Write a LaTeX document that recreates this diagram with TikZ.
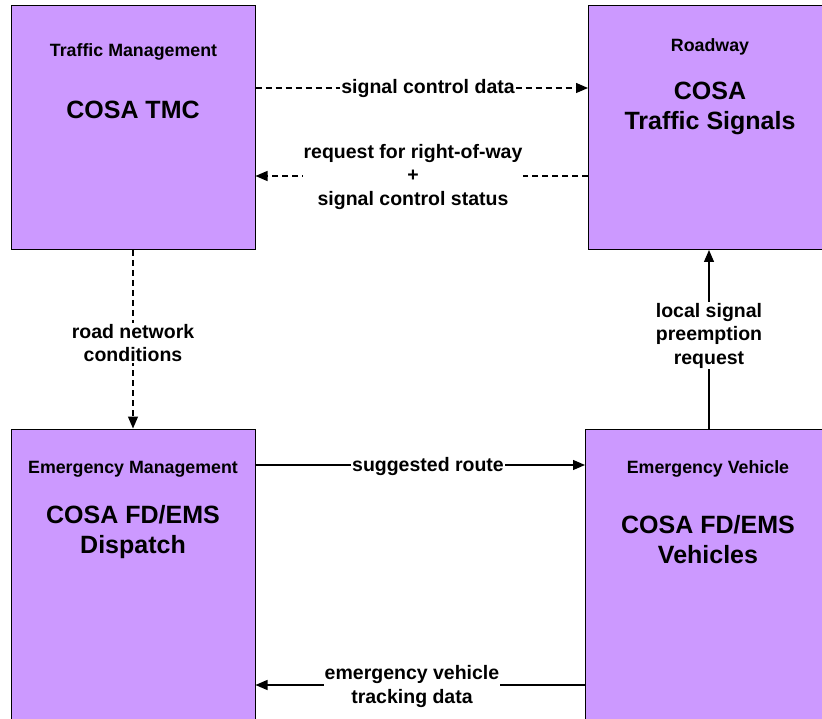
\documentclass[tikz,border=0pt]{standalone}
\usepackage{fontspec}
\setmainfont{Liberation Sans}
\usetikzlibrary{arrows.meta}
\definecolor{boxfill}{RGB}{204,153,255}
\begin{document}
\begin{tikzpicture}[x=1pt,y=-1pt,
  box/.style={draw=black,line width=1pt,fill=boxfill,minimum width=244pt,minimum height=244pt,inner sep=0pt,anchor=north west},
  cat/.style={font=\fontsize{17.8}{21}\selectfont\bfseries,inner sep=0pt},
  sysname/.style={font=\fontsize{25}{30}\selectfont\bfseries,align=center,inner sep=0pt},
  lbl/.style={font=\fontsize{19.5}{23.5}\selectfont\bfseries,align=center,fill=white,inner sep=1pt},
  flow/.style={line width=1.3pt,-{Triangle[length=12pt,width=10pt]}},
  dflow/.style={flow,dash pattern=on 6pt off 4pt}]
\useasboundingbox (0,0) rectangle (822,719);
\clip (0,0) rectangle (822,719);
\node[box] (tmc) at (10.5,5) {};
\node[box] (road) at (588,5) {};
\node[box,minimum height=300pt] (em) at (10.5,428.5) {};
\node[box,minimum height=300pt] (ev) at (585,428.5) {};
\coordinate (ya) at (0,88);
\coordinate (yb) at (0,176);
\coordinate (yc) at (0,465);
\coordinate (yd) at (0,685);
\coordinate (xa) at (709,0);
\draw[dflow] (tmc.east |- ya) -- (road.west |- ya);
\draw[dflow] (road.west |- yb) -- (tmc.east |- yb);
\draw[dflow] (tmc.south) -- (em.north);
\draw[flow] (ev.north -| xa) -- (road.south -| xa);
\draw[flow] (em.east |- yc) -- (ev.west |- yc);
\draw[flow] (ev.west |- yd) -- (em.east |- yd);
\node[lbl] (l1) at (428,89) {signal control data};
\node[lbl] (l2) at (413,177) {request for right-of-way\\+\\signal control status};
\node[lbl] (l3) at (133,343) {road network\\conditions};
\node[lbl] (l4) at (709,335.5) {local signal\\preemption\\request};
\node[lbl] (l5) at (428,466) {suggested route};
\node[lbl] (l6) at (412,686.5) {emergency vehicle\\tracking data};
\node[cat] (tmcc) at (133.5,51.5) {Traffic Management};
\node[sysname] (tmcn) at (133,109.5) {COSA TMC};
\node[cat] (roadc) at (710,46.5) {Roadway};
\node[sysname] (roadn) at (710,108.5) {COSA\\Traffic Signals};
\node[cat] (emc) at (133,469.5) {Emergency Management};
\node[sysname] (emn) at (133,532) {COSA FD/EMS\\Dispatch};
\node[cat] (evc) at (708,468.5) {Emergency Vehicle};
\node[sysname] (evn) at (708,540) {COSA FD/EMS\\Vehicles};
\end{tikzpicture}
\end{document}
